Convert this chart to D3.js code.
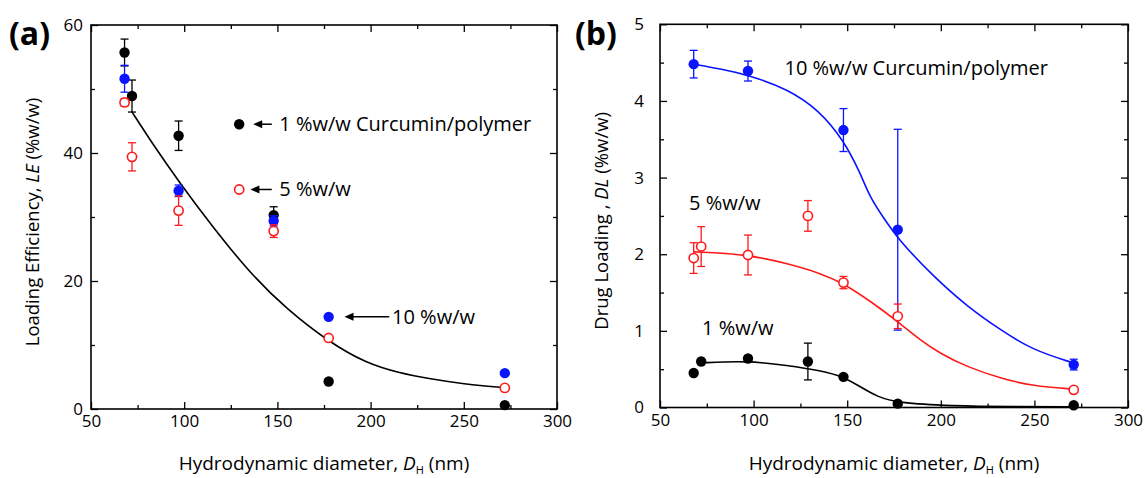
<!DOCTYPE html>
<html><head><meta charset="utf-8">
<script src="https://cdn.jsdelivr.net/npm/d3@7"></script>
<style>
body{margin:0;background:#fff;}
svg text{font-family:"Open Sans","Noto Sans",sans-serif;}
</style></head>
<body><svg id="c" width="1145" height="478"></svg>
<script>
// ---------- DATA ----------
// Panel (a): Loading efficiency LE (%w/w) vs hydrodynamic diameter (nm)
const aX1 = [68, 72, 97, 148, 177.5, 272];
const aY1 = [55.7, 48.9, 42.7, 30.3, 4.3, 0.6];
const aE1 = [2.1, 2.5, 2.3, 1.3, 0, 0];
const aX5 = [68, 72, 97, 148, 177.5, 272];
const aY5 = [47.9, 39.4, 31.0, 27.8, 11.1, 3.3];
const aE5 = [0.6, 2.2, 2.3, 1.0, 0, 0];
const aX10 = [68, 97, 148, 177.5, 272];
const aY10 = [51.6, 34.1, 29.4, 14.4, 5.6];
const aE10 = [2.1, 0.9, 0.8, 0, 0];
const aFitX = [71.8, 84, 97.7, 113.8, 135.3, 155, 177.5, 197.9, 215.8, 231.9, 250, 269.4];
const aFitY = [46.5, 41.0, 35.3, 29.0, 21.2, 15.6, 10.5, 7.1, 5.6, 4.7, 3.9, 3.4];

// Panel (b): Drug loading DL (%w/w) vs hydrodynamic diameter (nm)
const bX1 = [68, 72, 97, 129, 148, 177, 271];
const bY1 = [0.45, 0.60, 0.64, 0.60, 0.40, 0.05, 0.03];
const bE1 = [0, 0, 0, 0.24, 0, 0, 0];
const bX5 = [68, 72, 97, 129, 148, 177, 271];
const bY5 = [1.95, 2.10, 1.99, 2.50, 1.63, 1.19, 0.23];
const bE5 = [0.2, 0.26, 0.26, 0.2, 0.08, 0.16, 0];
const bX10 = [68, 97, 148, 177, 271];
const bY10 = [4.48, 4.39, 3.62, 2.32, 0.56];
const bE10 = [0.18, 0.13, 0.28, 1.31, 0.07];
const bFit1X = [71, 97, 118, 136, 148, 157, 166, 177, 205, 240, 271];
const bFit1Y = [0.58, 0.61, 0.55, 0.48, 0.40, 0.27, 0.14, 0.06, 0.02, 0.01, 0.01];
const bFit5X = [68, 96, 118, 136, 148, 164, 177, 189, 200, 214, 232, 249, 271];
const bFit5Y = [2.03, 2.00, 1.88, 1.75, 1.62, 1.36, 1.12, 0.88, 0.70, 0.53, 0.38, 0.28, 0.24];
const bFit10X = [68, 82, 97, 118, 135, 148, 157, 162, 169, 177, 196, 214, 232, 249, 271];
const bFit10Y = [4.48, 4.42, 4.34, 4.16, 3.88, 3.49, 3.06, 2.75, 2.49, 2.20, 1.71, 1.32, 1.01, 0.75, 0.58];

const xTicks = [50, 100, 150, 200, 250, 300];
const xMinor = [75, 125, 175, 225, 275];
const aYTicks = [0, 20, 40, 60];
const aYMinor = [10, 30, 50];
const bYTicks = [0, 1, 2, 3, 4, 5];
const bYMinor = [0.5, 1.5, 2.5, 3.5, 4.5];

const BLACK = "#000", RED = "#ff1a1a", BLUE = "#0a14ff";

// ---------- DRAW ----------
const svg = d3.select("#c");

function panel(cfg) {
  const x = d3.scaleLinear().domain([50, 300]).range([cfg.left, cfg.right]);
  const y = d3.scaleLinear().domain(cfg.yDom).range([cfg.bottom, cfg.top]);
  const g = svg.append("g");
  const fs = "17px";
  const mk = (axis, tr, vals, size, labels, pad) => {
    const a = g.append("g").attr("transform", tr)
      .call(axis.tickValues(vals).tickSize(-size).tickPadding(pad || 3)
        .tickFormat(labels ? d3.format("d") : ""));
    a.select(".domain").remove();
    a.selectAll("line").attr("stroke", "#000").attr("stroke-width", 1.3);
    a.selectAll("text").attr("font-size", fs).attr("fill", "#000")
      .style("font-family", '"Open Sans","Noto Sans",sans-serif');
    return a;
  };
  mk(d3.axisBottom(x), `translate(0,${cfg.bottom})`, xTicks, 7, true, 6);
  mk(d3.axisBottom(x), `translate(0,${cfg.bottom})`, xMinor, 4, false);
  mk(d3.axisTop(x), `translate(0,${cfg.top})`, xTicks, 7, false);
  mk(d3.axisTop(x), `translate(0,${cfg.top})`, xMinor, 4, false);
  mk(d3.axisLeft(y), `translate(${cfg.left},0)`, cfg.yTicks, 7, true, cfg.yPad);
  mk(d3.axisLeft(y), `translate(${cfg.left},0)`, cfg.yMinor, 4, false);
  mk(d3.axisRight(y), `translate(${cfg.right},0)`, cfg.yTicks, 7, false);
  mk(d3.axisRight(y), `translate(${cfg.right},0)`, cfg.yMinor, 4, false);
  g.append("rect").attr("x", cfg.left).attr("y", cfg.top)
    .attr("width", cfg.right - cfg.left).attr("height", cfg.bottom - cfg.top)
    .attr("fill", "none").attr("stroke", "#000").attr("stroke-width", 1.6);

  const line = d3.line().x(d => x(d[0])).y(d => y(d[1])).curve(d3.curveBasis);
  cfg.fits.forEach(f => {
    g.append("path").datum(d3.zip(f.x, f.y)).attr("d", line)
      .attr("fill", "none").attr("stroke", f.color).attr("stroke-width", 1.6);
  });

  cfg.series.forEach(s => {
    const pts = s.x.map((v, i) => ({x: v, y: s.y[i], e: s.e[i]}));
    const eg = g.append("g").attr("stroke", s.color).attr("stroke-width", 1.3);
    pts.filter(p => p.e > 0).forEach(p => {
      eg.append("line").attr("x1", x(p.x)).attr("x2", x(p.x))
        .attr("y1", y(p.y - p.e)).attr("y2", y(p.y + p.e));
      [p.y - p.e, p.y + p.e].forEach(v => eg.append("line")
        .attr("x1", x(p.x) - 4).attr("x2", x(p.x) + 4)
        .attr("y1", y(v)).attr("y2", y(v)));
    });
    g.append("g").selectAll("circle").data(pts).join("circle")
      .attr("cx", d => x(d.x)).attr("cy", d => y(d.y))
      .attr("r", s.open ? 4.6 : 5.2)
      .attr("fill", s.open ? "#fff" : s.color)
      .attr("stroke", s.color).attr("stroke-width", s.open ? 1.6 : 0);
  });

  const xt = g.append("text").attr("x", (cfg.left + cfg.right) / 2).attr("y", 470)
    .attr("text-anchor", "middle").attr("font-size", "19px").attr("fill", "#000");
  xt.append("tspan").text("Hydrodynamic diameter, ");
  xt.append("tspan").attr("font-style", "italic").text("D");
  xt.append("tspan").attr("font-size", "11px").attr("dy", 4).text("H");
  xt.append("tspan").attr("dy", -4).text(" (nm)");

  const yt = g.append("text")
    .attr("transform", `translate(${cfg.yTitleX},${(cfg.top + cfg.bottom) / 2 + 5}) rotate(-90)`)
    .attr("text-anchor", "middle").attr("font-size", "18.5px").attr("fill", "#000");
  yt.append("tspan").text(cfg.yTitle[0]);
  yt.append("tspan").attr("font-style", "italic").text(cfg.yTitle[1]);
  yt.append("tspan").text(cfg.yTitle[2]);

  svg.append("text").attr("x", cfg.labelX).attr("y", 45)
    .attr("font-size", "32px").attr("font-weight", "bold").attr("fill", "#000")
    .text(cfg.label);
  return {x, y, g};
}

const A = panel({
  left: 91, right: 557, top: 25, bottom: 409, yDom: [0, 60],
  yTicks: aYTicks, yMinor: aYMinor, yPad: 8, yTitleX: 39,
  yTitle: ["Loading Efficiency, ", "LE", " (%w/w)"], label: "(a)", labelX: 9,
  fits: [{x: aFitX, y: aFitY, color: BLACK}],
  series: [
    {x: aX1, y: aY1, e: aE1, color: BLACK},
    {x: aX10, y: aY10, e: aE10, color: BLUE},
    {x: aX5, y: aY5, e: aE5, color: RED, open: true}
  ]
});

const B = panel({
  left: 660, right: 1128, top: 24.3, bottom: 407.5, yDom: [0, 5],
  yTicks: bYTicks, yMinor: bYMinor, yPad: 16, yTitleX: 608,
  yTitle: ["Drug Loading , ", "DL", " (%w/w)"], label: "(b)", labelX: 575,
  fits: [{x: bFit10X, y: bFit10Y, color: BLUE}, {x: bFit5X, y: bFit5Y, color: RED},
         {x: bFit1X, y: bFit1Y, color: BLACK}],
  series: [
    {x: bX10, y: bY10, e: bE10, color: BLUE},
    {x: bX5, y: bY5, e: bE5, color: RED, open: true},
    {x: bX1, y: bY1, e: bE1, color: BLACK}
  ]
});

// ---------- ANNOTATIONS ----------
function arrow(P, x1, x2, yv) {
  const X1 = P.x(x1), X2 = P.x(x2), Y = P.y(yv);
  P.g.append("line").attr("x1", X1).attr("x2", X2 + 6).attr("y1", Y).attr("y2", Y)
    .attr("stroke", "#000").attr("stroke-width", 1.5);
  P.g.append("path").attr("d", `M${X2},${Y} L${X2 + 9},${Y - 4} L${X2 + 9},${Y + 4} Z`)
    .attr("fill", "#000");
}
function label(P, xv, yv, txt) {
  P.g.append("text").attr("x", P.x(xv)).attr("y", P.y(yv)).attr("dy", "0.35em")
    .attr("font-size", "20px").attr("fill", "#000").text(txt);
}
A.g.append("circle").attr("cx", A.x(129.5)).attr("cy", A.y(44.5)).attr("r", 5.2).attr("fill", BLACK);
arrow(A, 147, 137, 44.5);
label(A, 151, 44.5, "1 %w/w Curcumin/polymer");
A.g.append("circle").attr("cx", A.x(129.5)).attr("cy", A.y(34.3)).attr("r", 4.6)
  .attr("fill", "#fff").attr("stroke", RED).attr("stroke-width", 1.6);
arrow(A, 147, 135.5, 34.3);
label(A, 151, 34.3, "5 %w/w");
arrow(A, 210, 186, 14.4);
label(A, 211.5, 14.4, "10 %w/w");

label(B, 116.5, 4.43, "10 %w/w Curcumin/polymer");
label(B, 65.5, 2.67, "5 %w/w");
label(B, 72.5, 1.04, "1 %w/w");
</script></body></html>
